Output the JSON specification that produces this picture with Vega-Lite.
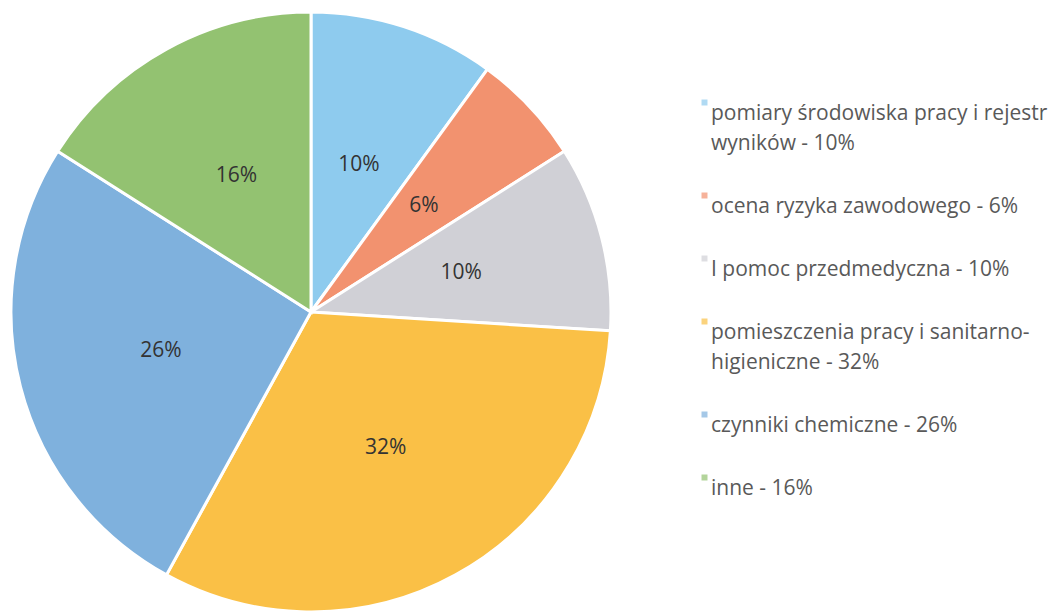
{
  "$schema": "https://vega.github.io/schema/vega-lite/v6.json",
  "width": 622,
  "height": 624,
  "padding": 0,
  "background": "white",
  "config": {"view": {"stroke": null}, "style": {"guide-label": {"lineHeight": 30}}},
  "data": {
    "values": [
      {"kategoria": "pomiary środowiska pracy i rejestr|wyników - 10%", "procent": "10%", "wartosc": 10, "kolejnosc": 1},
      {"kategoria": "ocena ryzyka zawodowego - 6%", "procent": "6%", "wartosc": 6, "kolejnosc": 2},
      {"kategoria": "I pomoc przedmedyczna - 10%", "procent": "10%", "wartosc": 10, "kolejnosc": 3},
      {"kategoria": "pomieszczenia pracy i sanitarno-|higieniczne - 32%", "procent": "32%", "wartosc": 32, "kolejnosc": 4},
      {"kategoria": "czynniki chemiczne - 26%", "procent": "26%", "wartosc": 26, "kolejnosc": 5},
      {"kategoria": "inne - 16%", "procent": "16%", "wartosc": 16, "kolejnosc": 6}
    ]
  },
  "encoding": {
    "theta": {"field": "wartosc", "type": "quantitative", "stack": true},
    "order": {"field": "kolejnosc", "type": "quantitative"},
    "color": {
      "field": "kategoria",
      "type": "nominal",
      "scale": {
        "domain": [
          "pomiary środowiska pracy i rejestr|wyników - 10%",
          "ocena ryzyka zawodowego - 6%",
          "I pomoc przedmedyczna - 10%",
          "pomieszczenia pracy i sanitarno-|higieniczne - 32%",
          "czynniki chemiczne - 26%",
          "inne - 16%"
        ],
        "range": ["#8ecbee", "#f2926f", "#d0d0d6", "#fac046", "#7fb1dd", "#93c271"]
      },
      "legend": {
        "title": null,
        "orient": "none",
        "legendX": 694,
        "legendY": 92,
        "padding": 0,
        "direction": "vertical",
        "columns": 1,
        "symbolType": "square",
        "symbolSize": 36,
        "symbolStrokeWidth": 0,
        "symbolOpacity": 0.7,
        "labelExpr": "split(datum.label, '|')",
        "labelFont": "Open Sans",
        "labelFontSize": 21,
        "labelColor": "#595959",
        "labelLimit": 1000,
        "labelOffset": -4,
        "labelBaseline": "top",
        "rowPadding": 31,
        "encode": {"symbols": {"update": {"y": {"value": 25}}}}
      }
    }
  },
  "layer": [
    {"mark": {"type": "arc", "outerRadius": 300, "stroke": "white", "strokeWidth": 3}},
    {
      "mark": {"type": "text", "radius": 155, "font": "Open Sans", "fontSize": 21, "fill": "#333333"},
      "encoding": {"text": {"field": "procent", "type": "nominal"}, "color": {"value": "#333333"}}
    }
  ]
}
